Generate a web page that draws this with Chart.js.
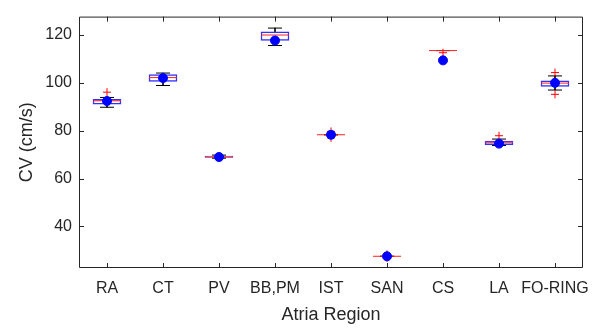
<!DOCTYPE html>
<html>
<head>
<meta charset="utf-8">
<script src="https://cdn.jsdelivr.net/npm/chart.js@4.4.1/dist/chart.umd.min.js"></script>
<style>
  html, body { margin: 0; padding: 0; background: #fff; }
  #wrap { width: 603px; height: 330px; }
</style>
</head>
<body>
<div id="wrap"><canvas id="cvChart" width="603" height="330"></canvas></div>
<script>
// Box plot stats per atria region
const categories = ['RA', 'CT', 'PV', 'BB,PM', 'IST', 'SAN', 'CS', 'LA', 'FO-RING'];
const q1Values      = [91.1, 100.6, 68.8, 117.7, 78.3, 27.5, 113.5, 74.2, 98.5];
const medianValues  = [92.5, 102.2, 69.1, 120.0, 78.3, 27.5, 113.5, 75.2, 99.9];
const q3Values      = [93.1, 103.5, 69.4, 121.3, 78.3, 27.5, 113.5, 75.7, 100.9];
const whiskerLow    = [89.8, 98.9, 68.5, 115.6, 78.3, 27.5, 113.5, 73.8, 97.0];
const whiskerHigh   = [93.9, 104.1, 69.8, 122.9, 78.3, 27.5, 113.5, 76.5, 102.9];
const meanValues    = [92.4, 102.0, 69.0, 117.7, 78.3, 27.5, 109.4, 74.6, 100.0];
const outlierValues = [[96.1], [], [], [], [79.7, 77.0], [28.3, 26.8], [112.6], [77.9], [104.3, 95.2]];
const yTicks = [40, 60, 80, 100, 120];
const yMin = 22.6, yMax = 127.7;

const textColor = '#262626';
const axisColor = '#262626';
const fontFamily = 'Liberation Sans, Arial, sans-serif';

const outlierPoints = [];
outlierValues.forEach((list, i) => {
    list.forEach(v => outlierPoints.push({ x: categories[i], y: v }));
});

function markers(values, style, radius, color, order) {
    return {
        type: 'line',
        data: values,
        showLine: false,
        pointStyle: style,
        pointRadius: radius,
        pointHoverRadius: radius,
        pointBorderColor: color,
        pointBackgroundColor: color,
        pointBorderWidth: 1,
        order: order
    };
}

// draw MATLAB-like box frame with inward ticks on all four sides
const matlabFrame = {
    id: 'matlabFrame',
    afterDraw(chart) {
        const { ctx, chartArea: a, scales } = chart;
        const len = 5;
        ctx.save();
        ctx.strokeStyle = axisColor;
        ctx.lineWidth = 1;
        ctx.beginPath();
        ctx.rect(a.left + 0.5, a.top + 0.5, a.right - a.left - 1, a.bottom - a.top - 1);
        scales.x.ticks.forEach((t, i) => {
            const px = Math.round(scales.x.getPixelForTick(i)) + 0.5;
            ctx.moveTo(px, a.bottom); ctx.lineTo(px, a.bottom - len);
            ctx.moveTo(px, a.top); ctx.lineTo(px, a.top + len);
        });
        scales.y.ticks.forEach((t, i) => {
            const py = Math.round(scales.y.getPixelForTick(i)) + 0.5;
            ctx.moveTo(a.left, py); ctx.lineTo(a.left + len, py);
            ctx.moveTo(a.right, py); ctx.lineTo(a.right - len, py);
        });
        ctx.stroke();
        ctx.restore();
    }
};

const ctx = document.getElementById('cvChart').getContext('2d');
new Chart(ctx, {
    data: {
        labels: categories,
        datasets: [
            {
                // whisker stems
                type: 'bar',
                data: categories.map((c, i) => [whiskerLow[i], whiskerHigh[i]]),
                backgroundColor: '#000000',
                barThickness: 1,
                grouped: false,
                order: 6
            },
            {
                // boxes (q1..q3)
                type: 'bar',
                data: categories.map((c, i) => [q1Values[i], q3Values[i]]),
                backgroundColor: '#ffffff',
                borderColor: 'rgb(50,50,255)',
                borderWidth: 1.5,
                borderSkipped: false,
                barThickness: 28,
                grouped: false,
                order: 5
            },
            markers(whiskerLow, 'line', 7, '#000000', 4),
            markers(whiskerHigh, 'line', 7, '#000000', 4),
            markers(medianValues, 'line', 14, '#ff2020', 3),
            {
                type: 'line',
                data: outlierPoints,
                showLine: false,
                pointStyle: 'cross',
                pointRadius: 4,
                pointHoverRadius: 4,
                pointBorderColor: '#ff0000',
                pointBorderWidth: 1,
                order: 2
            },
            markers(meanValues, 'circle', 4.5, '#0000ff', 1)
        ]
    },
    options: {
        responsive: false,
        animation: false,
        events: [],
        layout: { padding: { top: 4, right: 20, left: 0, bottom: 0 } },
        plugins: { legend: { display: false }, tooltip: { enabled: false } },
        scales: {
            x: {
                type: 'category',
                offset: true,
                grid: { display: false, drawTicks: false },
                border: { display: false },
                ticks: {
                    color: textColor,
                    font: { family: fontFamily, size: 16 },
                    padding: 11,
                    maxRotation: 0,
                    autoSkip: false
                },
                title: {
                    display: true,
                    text: 'Atria Region',
                    color: textColor,
                    font: { family: fontFamily, size: 18 },
                    padding: { top: 0, bottom: 4 }
                },
                afterFit: s => { s.height = 62; }
            },
            y: {
                min: yMin,
                max: yMax,
                grid: { display: false, drawTicks: false },
                border: { display: false },
                afterBuildTicks: s => { s.ticks = yTicks.map(v => ({ value: v })); },
                ticks: {
                    color: textColor,
                    font: { family: fontFamily, size: 16 },
                    padding: 7
                },
                title: {
                    display: true,
                    text: 'CV (cm/s)',
                    color: textColor,
                    font: { family: fontFamily, size: 18 },
                    padding: { top: 16, bottom: 0 }
                },
                afterFit: s => { s.width = 79; }
            }
        }
    },
    plugins: [matlabFrame]
});
</script>
</body>
</html>
